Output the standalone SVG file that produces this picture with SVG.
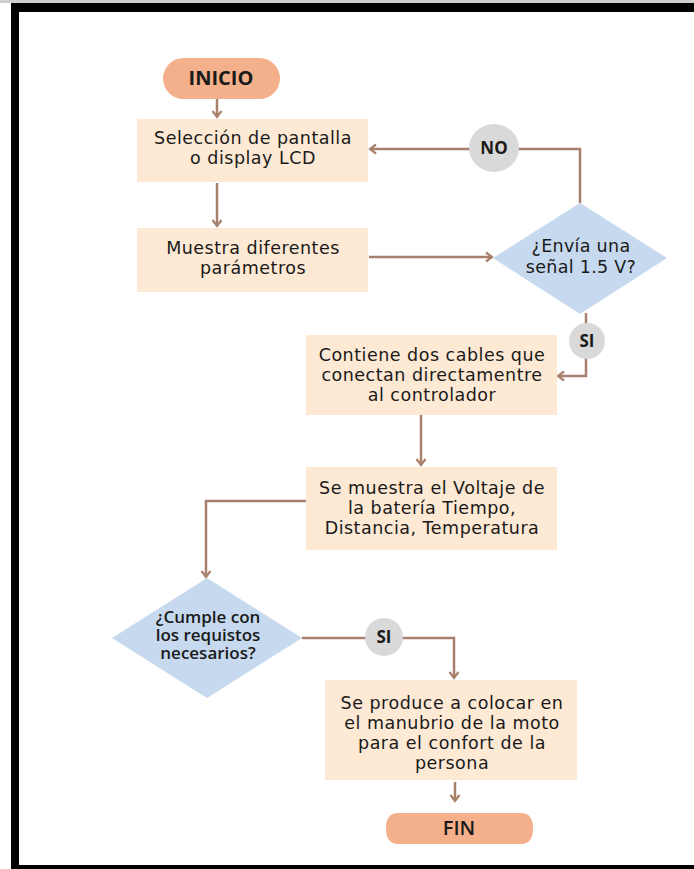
<svg xmlns="http://www.w3.org/2000/svg" width="694" height="869" viewBox="0 0 694 869">
<defs>
<style>
.bg{fill:#ffffff}
.frame{fill:#000000}
.term{fill:#f4b08a}
.box{fill:#fde9d4}
.dec{fill:#c6d9ee}
.lbl{fill:#d9d9d9}
.con{fill:none;stroke:#a8806b;stroke-width:2.5}
.t{font-family:"DejaVu Sans","Noto Sans",sans-serif;font-size:17.5px;letter-spacing:0.5px;fill:#1a1a1a;text-anchor:middle}
.td{font-family:"Open Sans","Noto Sans","DejaVu Sans",sans-serif;font-size:17px;font-weight:600;fill:#1a1a1a;text-anchor:middle}
.tb{font-family:"Open Sans","Noto Sans","DejaVu Sans",sans-serif;font-size:17px;font-weight:700;fill:#1a1a1a;text-anchor:middle}
.tt{font-family:"Open Sans","Noto Sans","DejaVu Sans",sans-serif;font-size:20px;font-weight:700;fill:#1a1a1a;text-anchor:middle}
</style>
<marker id="ah" markerWidth="12" markerHeight="12" refX="9" refY="6" orient="auto" markerUnits="userSpaceOnUse">
<path d="M3,1.5 L9,6 L3,10.5" fill="none" stroke="#a8806b" stroke-width="2.2"/>
</marker>
</defs>
<rect class="bg" x="0" y="0" width="694" height="869"/>
<rect x="0" y="0" width="694" height="3" fill="#cfcfcf"/>
<rect class="frame" x="11" y="3" width="683" height="9"/>
<rect class="frame" x="11" y="3" width="8" height="866"/>
<rect class="frame" x="11" y="865" width="683" height="4"/>

<g id="connectors">
<line class="con" x1="217" y1="99" x2="217" y2="117" marker-end="url(#ah)"/>
<line class="con" x1="217" y1="183" x2="217" y2="226" marker-end="url(#ah)"/>
<line class="con" x1="369" y1="257" x2="492" y2="257" marker-end="url(#ah)"/>
<polyline class="con" points="580,203 580,149 370,149" marker-end="url(#ah)"/>
<polyline class="con" points="586,313 586,376 558,376" marker-end="url(#ah)"/>
<line class="con" x1="421" y1="415" x2="421" y2="465" marker-end="url(#ah)"/>
<polyline class="con" points="306,501 206,501 206,577" marker-end="url(#ah)"/>
<polyline class="con" points="302,638 454,638 454,678" marker-end="url(#ah)"/>
<line class="con" x1="455" y1="782" x2="455" y2="801" marker-end="url(#ah)"/>
</g>

<g id="inicio">
<rect class="term" x="163" y="58" width="117" height="41" rx="20.5"/>
<text class="tt" x="221" y="85">INICIO</text>
</g>

<g id="seleccion">
<rect class="box" x="137" y="119" width="231" height="63"/>
<text class="t" x="253" y="144">Selección de pantalla</text>
<text class="t" x="253" y="164">o display LCD</text>
</g>

<g id="muestra">
<rect class="box" x="137" y="228" width="231" height="64"/>
<text class="t" x="253" y="254">Muestra diferentes</text>
<text class="t" x="253" y="274">parámetros</text>
</g>

<g id="envia">
<polygon class="dec" points="580,203 667,258 580,314 493,258"/>
<text class="t" x="581" y="252" style="font-size:17.5px;letter-spacing:0.3px">¿Envía una</text>
<text class="t" x="581" y="273" style="font-size:17.5px;letter-spacing:0.3px">señal 1.5 V?</text>
</g>

<g id="no">
<ellipse class="lbl" cx="494" cy="148" rx="25" ry="24"/>
<text class="tb" x="494" y="154">NO</text>
</g>

<g id="si1">
<circle class="lbl" cx="587" cy="341" r="18"/>
<text class="tb" x="587" y="347">SI</text>
</g>

<g id="contiene">
<rect class="box" x="306" y="335" width="251" height="80"/>
<text class="t" x="432" y="361">Contiene dos cables que</text>
<text class="t" x="432" y="381">conectan directamentre</text>
<text class="t" x="432" y="401">al controlador</text>
</g>

<g id="voltaje">
<rect class="box" x="306" y="467" width="251" height="83"/>
<text class="t" x="432" y="494">Se muestra el Voltaje de</text>
<text class="t" x="432" y="514">la batería Tiempo,</text>
<text class="t" x="432" y="534">Distancia, Temperatura</text>
</g>

<g id="cumple">
<polygon class="dec" points="207,578 302,638 207,698 112,638"/>
<text class="td" x="208" y="623">¿Cumple con</text>
<text class="td" x="208" y="641">los requistos</text>
<text class="td" x="208" y="659">necesarios?</text>
</g>

<g id="si2">
<circle class="lbl" cx="384" cy="637" r="19"/>
<text class="tb" x="384" y="643">SI</text>
</g>

<g id="produce">
<rect class="box" x="325" y="680" width="252" height="100"/>
<text class="t" x="452" y="709">Se produce a colocar en</text>
<text class="t" x="452" y="729">el manubrio de la moto</text>
<text class="t" x="452" y="749">para el confort de la</text>
<text class="t" x="452" y="769">persona</text>
</g>

<g id="fin">
<path class="term" d="M398,813 H521 Q533,813 533,828.5 Q533,844 521,844 H398 Q386,844 386,828.5 Q386,813 398,813 Z"/>
<text class="tt" x="459" y="835" style="font-weight:600">FIN</text>
</g>
</svg>
